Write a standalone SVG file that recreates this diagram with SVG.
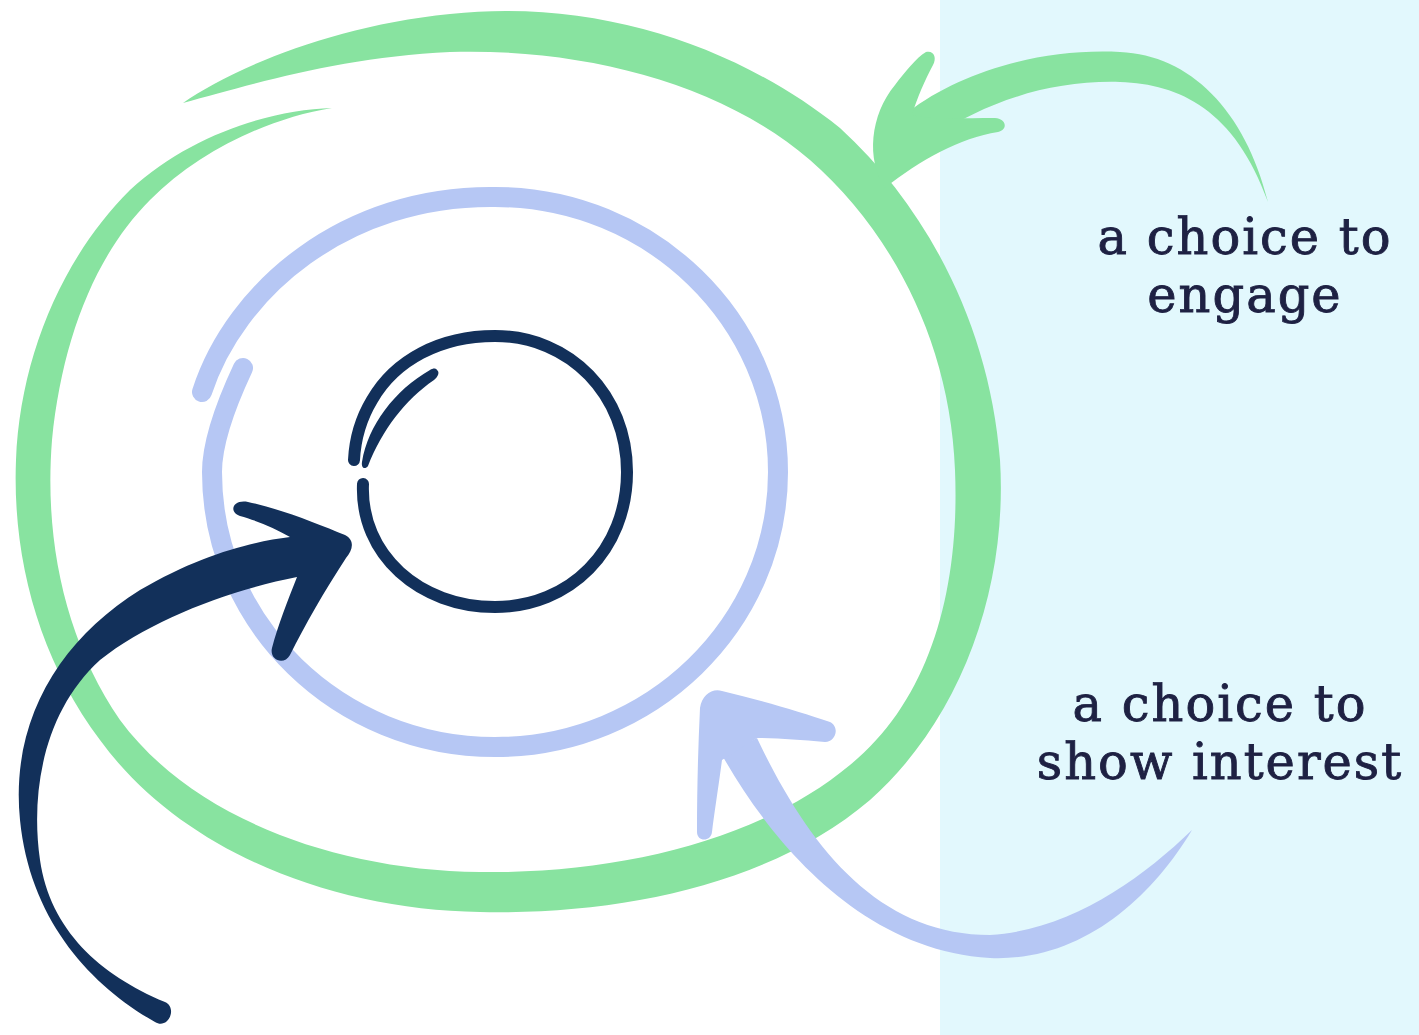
<svg xmlns="http://www.w3.org/2000/svg" width="1419" height="1035" viewBox="0 0 1419 1035">
  <style>
    .green { fill: #88e3a0; }
    .blue { fill: #b6c7f4; }
    .navy { fill: #12305a; }
    .blue-line { fill: none; stroke: #b6c7f4; stroke-width: 20; stroke-linecap: round; }
    .navy-line { fill: none; stroke: #12305a; stroke-linecap: round; }
    .label { font-family: "DejaVu Serif", "Liberation Serif", serif; font-size: 49.5px; letter-spacing: 2px; fill: #1e2143; stroke: #1e2143; stroke-width: 0.9px; text-anchor: middle; }
  </style>
  <rect x="0" y="0" width="1419" height="1035" fill="#ffffff"/>
  <rect x="940" y="0" width="479" height="1035" fill="#e2f8fd"/>

  <g id="outer-ring">
    <path class="green" d="M183,103 C230,70 330,26 450,14 C600,-2 740,48 840,128 C930,210 990,330 1000,460 C1008,590 960,720 870,800 C770,885 620,915 480,912 C330,910 180,850 100,740 C40,660 12,560 16,460 C20,360 60,260 130,190 C190,135 270,110 332,108 C270,118 200,150 150,200 C95,255 62,340 52,440 C44,540 65,640 120,720 C190,815 330,870 480,872 C620,874 760,840 850,765 C930,700 960,590 955,470 C950,340 890,230 810,160 C720,82 580,48 450,52 C340,57 250,85 183,103 Z"/>
  </g>

  <g id="middle-ring">
    <path class="blue-line" d="M243,368 C228,400 212,440 212,472 C212,624 339,747 495,747 C651,747 778,624 778,472 C778,320 651,197 495,197 C345,195 235,290 202,392"/>
  </g>

  <g id="inner-circle">
    <path class="navy-line" stroke-width="12" d="M363,484 C360,555 420,607 495,607 C570,607 627,550 627,472 C627,395 570,336 495,336 C440,336 395,360 372,400 C360,420 355,440 354,460"/>
    <path class="navy" d="M437,370 C440,372 438,377 434,380 C405,400 382,430 368,466 C365,470 361,468 362,462 C368,425 395,390 430,370 C433,368 436,368 437,370 Z"/>
  </g>

  <g id="label-engage">
    <text class="label" x="1245" y="254">a choice to</text>
    <text class="label" x="1245" y="312">engage</text>
  </g>

  <g id="label-interest">
    <text class="label" x="1220" y="721">a choice to</text>
    <text class="label" x="1220" y="779">show interest</text>
  </g>

  <g id="connectors">
    <g id="arrow-engage">
      <path class="green" d="M1268,202 C1245,110 1190,55 1120,52 C1040,48 960,72 908,112 L932,138 C985,102 1050,80 1120,82 C1180,84 1235,110 1268,202 Z"/>
      <path class="green" d="M885,188 C866,160 870,115 895,85 C905,72 916,58 926,52 C934,50 937,58 933,65 C925,80 917,98 912,115 C930,120 960,118 995,118 C1007,119 1008,130 998,132 C960,138 920,160 885,188 Z"/>
    </g>
    <g id="arrow-interest">
      <path class="blue" d="M722,755 C770,840 860,950 990,958 C1080,962 1150,900 1192,830 C1140,880 1070,930 990,935 C880,935 810,850 757,738 Z"/>
      <path class="blue" d="M700,708 C702,695 712,688 722,691 C760,700 800,712 830,722 C840,727 836,742 825,742 C800,740 780,738 757,738 L722,760 C718,790 714,815 712,832 C711,842 697,842 697,832 C697,790 698,750 700,708 Z"/>
    </g>
    <g id="arrow-center">
      <path class="navy" d="M155,1022 C90,985 30,920 20,820 C10,720 60,640 140,590 C200,555 250,542 290,537 C275,528 255,520 240,516 C228,512 233,499 248,502 C285,510 320,525 345,535 C355,540 353,550 346,558 C325,590 305,625 290,655 C284,666 269,660 272,648 C278,625 288,600 297,577 C230,590 150,620 100,660 C45,710 30,790 40,860 C50,930 100,975 165,1002 C178,1008 168,1030 155,1022 Z"/>
    </g>
  </g>
</svg>
